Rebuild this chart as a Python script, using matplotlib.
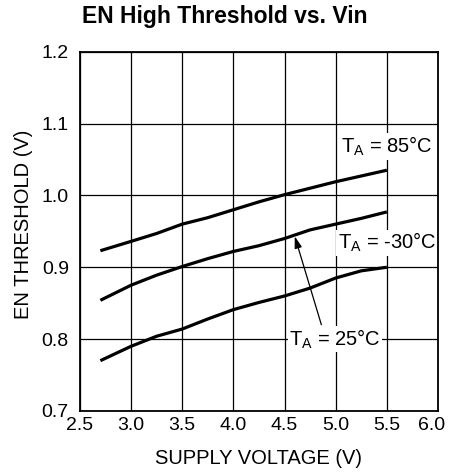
import matplotlib
matplotlib.use("Agg")
import matplotlib.pyplot as plt
import matplotlib.transforms as mtransforms

plt.rcParams['font.family'] = ['Liberation Sans', 'DejaVu Sans']
plt.rcParams['mathtext.fontset'] = 'custom'
plt.rcParams['mathtext.rm'] = 'Liberation Sans'

# supply voltage (V)
vin = [2.7, 3.0, 3.25, 3.5, 3.75, 4.0, 4.25, 4.5, 4.75, 5.0, 5.25, 5.5]
# EN threshold (V) per temperature
th_85 = [0.923, 0.936, 0.947, 0.960, 0.969, 0.980, 0.991, 1.001, 1.010, 1.019, 1.027, 1.035]
th_m30 = [0.854, 0.875, 0.889, 0.901, 0.912, 0.922, 0.930, 0.940, 0.952, 0.960, 0.968, 0.977]
th_25 = [0.770, 0.790, 0.804, 0.814, 0.828, 0.841, 0.851, 0.860, 0.871, 0.885, 0.895, 0.900]

xticks = [2.5, 3.0, 3.5, 4.0, 4.5, 5.0, 5.5, 6.0]
yticks = [0.7, 0.8, 0.9, 1.0, 1.1, 1.2]

fig = plt.figure(figsize=(4.49, 4.74), dpi=100)
ax = fig.add_axes([0.178, 0.133, 0.7975, 0.758])

for th in (th_85, th_m30, th_25):
    ax.plot(vin, th, color="black", lw=2.3, solid_capstyle="butt",
            solid_joinstyle="round", zorder=3)

ax.set_xlim(2.5, 6.0)
ax.set_ylim(0.7, 1.2)
ax.set_xticks(xticks)
ax.set_yticks(yticks)
ax.set_xticklabels([f"{v:.1f}" for v in xticks])
ax.set_yticklabels([f"{v:.1f}" for v in yticks])
ax.tick_params(axis="x", length=0, pad=4, labelsize=14)
ax.tick_params(axis="y", length=0, pad=8, labelsize=14)
ax.grid(True, color="black", lw=0.9, zorder=1)
for sp in ax.spines.values():
    sp.set_linewidth(1.3)

# last x label pulled left so it stays inside the figure
last = ax.get_xticklabels()[-1]
last.set_horizontalalignment("right")
last.set_transform(last.get_transform() + mtransforms.ScaledTranslation(7 / 100, 0, fig.dpi_scale_trans))

ax.set_xlabel("SUPPLY VOLTAGE (V)", fontsize=14.5, labelpad=11)
ax.set_ylabel("EN THRESHOLD (V)", fontsize=14.5)
ax.yaxis.set_label_coords(-0.13, 0.52)
fig.suptitle("EN High Threshold vs. Vin", fontsize=16.5, fontweight="bold", y=0.99)

box = dict(facecolor="white", edgecolor="none", pad=1.0)
ax.text(5.5, 1.068, r"T$_\mathregular{A}$ = 85°C", fontsize=14.5, ha="center", va="center", bbox=box, zorder=4)
ax.text(5.5, 0.934, r"T$_\mathregular{A}$ = -30°C", fontsize=14.5, ha="center", va="center", bbox=box, zorder=4)
ax.text(4.99, 0.800, r"T$_\mathregular{A}$ = 25°C", fontsize=14.5, ha="center", va="center", bbox=box, zorder=4)
ax.annotate("", xy=(4.60, 0.943), xytext=(4.86, 0.820),
            arrowprops=dict(arrowstyle="-|>,head_length=0.7,head_width=0.22", color="black", lw=0.9,
                            shrinkA=0, shrinkB=0), zorder=5)

fig.savefig("out.png", dpi=100)
